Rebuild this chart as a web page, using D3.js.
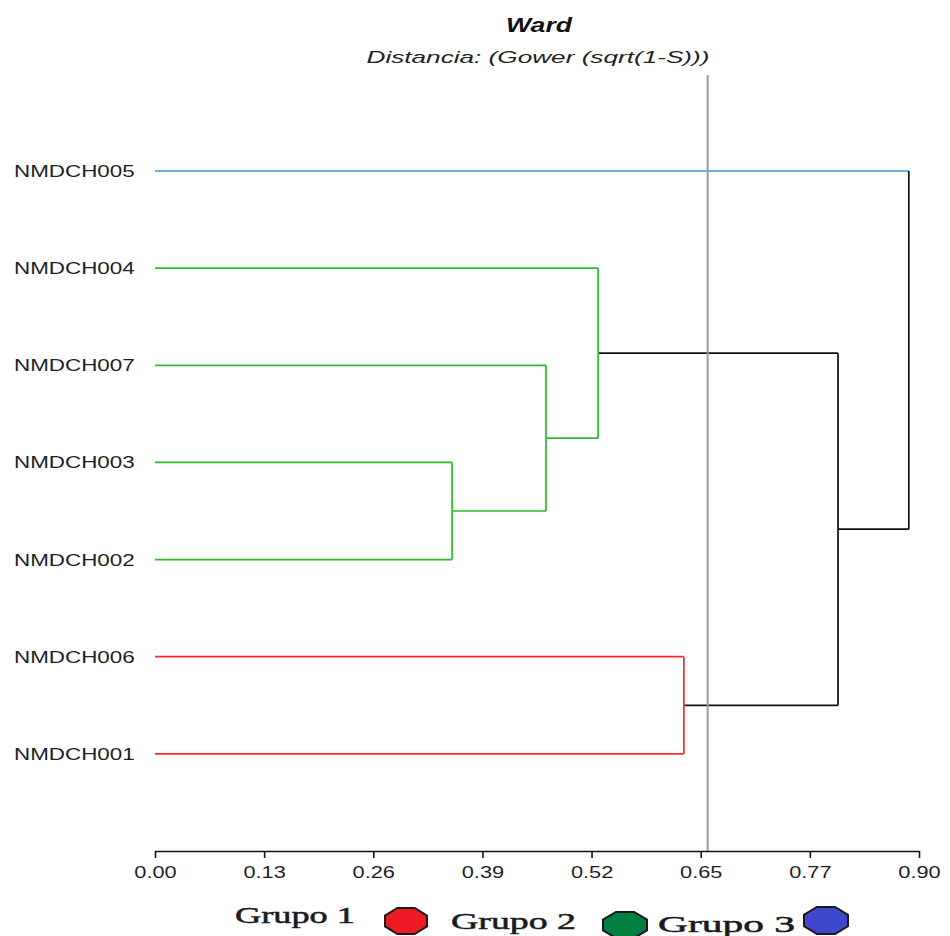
<!DOCTYPE html>
<html>
<head>
<meta charset="utf-8">
<script src="https://cdn.jsdelivr.net/npm/d3@7"></script>
<style>
  html, body { margin: 0; padding: 0; background: #fff; }
  svg { display: block; }
</style>
</head>
<body>
<svg id="chart" width="950" height="936"></svg>
<script>
// Leaves, top to bottom
const leaves = ["NMDCH005", "NMDCH004", "NMDCH007", "NMDCH003", "NMDCH002", "NMDCH006", "NMDCH001"];
// Colour group of each leaf branch
const leafGroups = ["blue", "green", "green", "green", "green", "red", "red"];
// Agglomeration steps (Ward): children are leaf indices or "m<k>" for earlier merges
const mergeLeft   = [3, 2, 1, 5, "m2", 0];
const mergeRight  = [4, "m0", "m1", 6, "m3", "m4"];
const mergeHeight = [0.350, 0.4606, 0.522, 0.623, 0.8046, 0.888];
const mergeGroup  = ["green", "green", "green", "red", "black", "black"];
// Cut level
const cutValue = 0.651;
// Axis
const tickLabels = ["0.00", "0.13", "0.26", "0.39", "0.52", "0.65", "0.77", "0.90"];
const axisMax = 0.9;
// Legend
const legendLabels = ["Grupo 1", "Grupo 2", "Grupo 3"];
const legendColors = ["#ed1c24", "#008040", "#3f48cc"];

const colors = { blue: "#3a9ad9", green: "#2dbb2d", red: "#ff2a2a", black: "#111111" };

const svg = d3.select("#chart");

const x = d3.scaleLinear().domain([0, axisMax]).range([155, 919]);
const y = d3.scaleLinear().domain([0, leaves.length]).range([171, 851]);

// Build the hierarchy from the merge steps
const nodes = {};
leaves.forEach((name, i) => { nodes[i] = { name, height: 0, group: leafGroups[i], index: i }; });
mergeHeight.forEach((h, k) => {
  nodes["m" + k] = {
    name: "m" + k, height: h, group: mergeGroup[k],
    children: [nodes[mergeLeft[k]], nodes[mergeRight[k]]]
  };
});
const root = d3.hierarchy(nodes["m" + (mergeHeight.length - 1)]);

// Vertical position: leaves at their row, internal nodes at the children's midpoint
root.eachAfter(n => {
  n.py = n.children ? d3.mean(n.children, c => c.py) : y(n.data.index);
  n.px = x(n.data.height);
});

const tree = svg.append("g").attr("fill", "none").attr("stroke-width", 1.7);

// Horizontal branches: leaves keep their own colour, inner nodes take the parent's
tree.selectAll("path.h")
  .data(root.descendants().filter(n => n.parent))
  .join("path")
  .attr("class", "h")
  .attr("stroke", n => colors[n.children ? n.parent.data.group : n.data.group])
  .attr("d", n => `M${n.px},${n.py}H${n.parent.px}`);

// Vertical joins at each merge
tree.selectAll("path.v")
  .data(root.descendants().filter(n => n.children))
  .join("path")
  .attr("class", "v")
  .attr("stroke", n => colors[n.data.group])
  .attr("d", n => `M${n.px},${n.children[0].py}V${n.children[1].py}`);

// Cut line
svg.append("line")
  .attr("x1", x(cutValue)).attr("x2", x(cutValue))
  .attr("y1", 75).attr("y2", y(leaves.length))
  .attr("stroke", "#9a9a9a").attr("stroke-width", 2);

// Widen text horizontally by a factor, keeping its anchor
function widen(sel, factor) {
  sel.each(function () {
    const w = this.getComputedTextLength();
    d3.select(this).attr("textLength", w * factor).attr("lengthAdjust", "spacingAndGlyphs");
  });
}
function fitTo(sel, width) {
  sel.attr("textLength", width).attr("lengthAdjust", "spacingAndGlyphs");
}

// Leaf labels
svg.append("g")
  .selectAll("text")
  .data(leaves)
  .join("text")
  .attr("x", 14)
  .attr("y", (d, i) => y(i) + 6)
  .attr("font-family", "Liberation Sans, Arial, sans-serif")
  .attr("font-size", 16)
  .attr("fill", "#1e1e28")
  .text(d => d)
  .call(widen, 1.40);

// Axis
const tickValues = tickLabels.map((t, i) => i * axisMax / (tickLabels.length - 1));
const axis = d3.axisBottom(x)
  .tickValues(tickValues)
  .tickFormat((d, i) => tickLabels[i])
  .tickSizeInner(7).tickSizeOuter(0).tickPadding(8);
const ag = svg.append("g").attr("transform", `translate(0,${y(leaves.length)})`).call(axis);
ag.select(".domain").attr("stroke", "#111").attr("stroke-width", 1.6);
ag.selectAll(".tick line").attr("stroke", "#111").attr("stroke-width", 1.6);
ag.selectAll(".tick text")
  .attr("font-family", "Liberation Sans, Arial, sans-serif")
  .attr("font-size", 16)
  .attr("fill", "#1e1e28")
  .attr("dy", "0.78em")
  .call(widen, 1.36);

// Titles
svg.append("text")
  .attr("x", 539).attr("y", 32)
  .attr("text-anchor", "middle")
  .attr("font-family", "Liberation Sans, Arial, sans-serif")
  .attr("font-size", 20).attr("font-weight", "bold").attr("font-style", "italic")
  .attr("fill", "#111")
  .text("Ward")
  .call(fitTo, 66);
svg.append("text")
  .attr("x", 538).attr("y", 63)
  .attr("text-anchor", "middle")
  .attr("font-family", "Liberation Sans, Arial, sans-serif")
  .attr("font-size", 17).attr("font-style", "italic")
  .attr("fill", "#222")
  .text("Distancia: (Gower (sqrt(1-S)))")
  .call(fitTo, 343);

// Legend
const legendText = [
  { x: 235, y: 923, w: 120 },
  { x: 451, y: 929, w: 125 },
  { x: 658, y: 932, w: 137 }
];
const legendMarks = [
  { cx: 406, cy: 921, rx: 21, ry: 13 },
  { cx: 625, cy: 925, rx: 22, ry: 13 },
  { cx: 826, cy: 920.5, rx: 22, ry: 13.5 }
];
const lg = svg.append("g");
lg.selectAll("text")
  .data(legendLabels)
  .join("text")
  .attr("x", (d, i) => legendText[i].x)
  .attr("y", (d, i) => legendText[i].y)
  .attr("font-family", "Liberation Serif, Times New Roman, serif")
  .attr("font-size", 23)
  .attr("fill", "#1a1a22")
  .attr("stroke", "#1a1a22").attr("stroke-width", 0.5)
  .text(d => d)
  .each(function (d, i) { d3.select(this).call(fitTo, legendText[i].w); });

const octagon = (m) => {
  const pts = d3.range(8).map(k => {
    const a = Math.PI / 8 + k * Math.PI / 4;
    return [m.cx + m.rx * Math.cos(a) / Math.cos(Math.PI / 8), m.cy + m.ry * Math.sin(a) / Math.cos(Math.PI / 8)];
  });
  return d3.line()(pts) + "Z";
};
lg.selectAll("path")
  .data(legendColors)
  .join("path")
  .attr("d", (d, i) => octagon(legendMarks[i]))
  .attr("fill", d => d)
  .attr("stroke", "#1a1a1a")
  .attr("stroke-width", 2);
</script>
</body>
</html>
